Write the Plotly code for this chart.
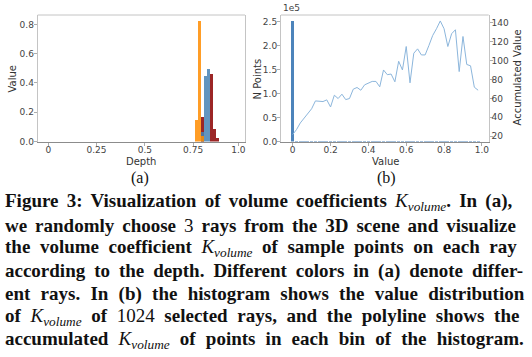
import plotly.graph_objects as go

# ---------------- data ----------------
# (a) sample index along ray (64 samples, depth 0..1)
orange_idx = [49, 50, 51]
orange_val = [0.148, 0.823, 0.039]
blue_idx = [51, 52, 53]
blue_val = [0.068, 0.448, 0.493]
red_idx = [51, 54, 55, 56]
red_val = [0.166, 0.461, 0.084, 0.027]
depth_tickvals = [0, 16, 32, 48, 63]
depth_ticktext = ["0", "0.25", "0.5", "0.75", "1.0"]
value_ticks_a = [0.0, 0.2, 0.4, 0.6, 0.8]

# (b) histogram bins of K_volume
bin_x = [0.00, 0.02, 0.04, 0.06, 0.08, 0.10, 0.12, 0.14, 0.16, 0.18,
         0.20, 0.22, 0.24, 0.26, 0.28, 0.30, 0.32, 0.34, 0.36, 0.38,
         0.40, 0.42, 0.44, 0.46, 0.48, 0.50, 0.52, 0.54, 0.56, 0.58,
         0.60, 0.62, 0.64, 0.66, 0.68, 0.70, 0.72, 0.74, 0.76, 0.78,
         0.80, 0.82, 0.84, 0.86, 0.88, 0.90, 0.92, 0.94, 0.96, 0.98]
n_points = [251000, 1350, 850, 650, 550, 490, 480, 410, 350, 320,
            255, 285, 250, 245, 210, 200, 215, 210, 190, 195,
            190, 185, 175, 157, 188, 170, 165, 143, 177, 155,
            191, 123, 168, 170, 156, 151, 161, 171, 176, 182,
            167, 140, 153, 154, 101, 139, 104, 100, 74, 70]
accumulated = [21.8, 27.0, 34.0, 38.8, 43.8, 49.0, 57.3, 57.3, 56.6, 58.4,
               50.9, 63.3, 59.8, 64.4, 58.7, 59.8, 69.7, 71.5, 68.6, 74.3,
               75.7, 77.9, 77.9, 72.2, 90.0, 85.0, 85.7, 77.5, 99.2, 90.0,
               114.8, 76.4, 107.7, 112.3, 105.9, 105.9, 115.9, 126.5, 133.6, 141.8,
               133.6, 114.8, 128.3, 132.5, 88.3, 125.4, 95.8, 94.4, 71.8, 68.6]
value_tickvals_b = [0, 0.2, 0.4, 0.6, 0.8, 1.0]
value_ticktext_b = ["0", "0.2", "0.4", "0.6", "0.8", "1.0"]
npts_tickvals = [0, 50000, 100000, 150000, 200000, 250000]
npts_ticktext = ["0.0", "0.5", "1.0", "1.5", "2.0", "2.5"]
acc_ticks = [20, 40, 60, 80, 100, 120, 140]

caption_lines = [
    "Figure 3: Visualization of volume coefficients {K}. In (a),",
    "we randomly choose {3} rays from the 3D scene and visualize",
    "the volume coefficient {K} of sample points on each ray",
    "according to the depth. Different colors in (a) denote differ-",
    "ent rays. In (b) the histogram shows the value distribution",
    "of {K} of {1024} selected rays, and the polyline shows the",
    "accumulated {K} of points in each bin of the histogram.",
]
# extra space between words (px) to justify each line
caption_word_spacing = [3.5, 3.2, 4.8, 4.2, 5.5, 4.9, 5.4]

# ---------------- layout helpers ----------------
W, H = 532, 357
def px_x(x):
    return x / W
def px_y(y):
    return 1 - y / H

TICK_FONT = dict(family="DejaVu Sans", size=9, color="#444444")
TITLE_FONT = dict(family="DejaVu Sans", size=10, color="#333333")
FRAME = "#c4c4c4"
BOTTOM = "#8c8c8c"

fig = go.Figure()

# (a) bars: red, blue, orange (orange on top)
fig.add_trace(go.Bar(x=red_idx, y=red_val, width=0.92, marker=dict(color="rgba(139,0,0,0.85)", line=dict(width=0)),
                     xaxis="x", yaxis="y", showlegend=False))
fig.add_trace(go.Bar(x=blue_idx, y=blue_val, width=0.92, marker=dict(color="rgba(70,130,180,0.85)", line=dict(width=0)),
                     xaxis="x", yaxis="y", showlegend=False))
fig.add_trace(go.Bar(x=orange_idx, y=orange_val, width=0.92, marker=dict(color="rgba(255,140,0,0.85)", line=dict(width=0)),
                     xaxis="x", yaxis="y", showlegend=False))

# (b) histogram + polyline
fig.add_trace(go.Bar(x=bin_x, y=n_points, width=0.017, marker=dict(color="#4d84bb", line=dict(width=0)),
                     xaxis="x2", yaxis="y2", showlegend=False))
fig.add_trace(go.Scatter(x=bin_x, y=accumulated, mode="lines", line=dict(color="#8cb6dc", width=1),
                         xaxis="x2", yaxis="y3", showlegend=False))

ydom = [px_y(141.5), px_y(15)]
common_axis = dict(showgrid=False, zeroline=False, tickfont=TICK_FONT, ticks="outside",
                   ticklen=3, tickwidth=0.8, tickcolor="#999999", automargin=False)
XSO = -3
YSO = -2

fig.update_layout(
    template="none",
    width=W, height=H, margin=dict(l=0, r=0, t=0, b=0, pad=0, autoexpand=False),
    paper_bgcolor="white", plot_bgcolor="white",
    barmode="overlay", bargap=0, hovermode=False,
    xaxis=dict(domain=[px_x(37.7), px_x(245)], range=[-3.5, 65.2], tickvals=depth_tickvals,
               ticktext=depth_ticktext, showline=True, linecolor=BOTTOM, linewidth=1,
               anchor="y", ticklabelstandoff=XSO, **common_axis),
    yaxis=dict(domain=ydom, range=[0, 0.864], tickvals=value_ticks_a, tickformat=".1f",
               showline=True, linecolor=FRAME, linewidth=1, mirror=True, anchor="x",
               ticklabelstandoff=YSO, **common_axis),
    xaxis2=dict(domain=[px_x(281), px_x(488.7)], range=[-0.062, 1.036], tickvals=value_tickvals_b,
                ticktext=value_ticktext_b, showline=True, linecolor=BOTTOM, linewidth=1,
                anchor="y2", ticklabelstandoff=XSO, **common_axis),
    yaxis2=dict(domain=ydom, range=[0, 264000], tickvals=npts_tickvals, ticktext=npts_ticktext,
                showline=True, linecolor=FRAME, linewidth=1, anchor="x2",
                ticklabelstandoff=YSO, **common_axis),
    yaxis3=dict(domain=ydom, range=[14.4, 148.1], tickvals=acc_ticks, overlaying="y2", side="right",
                showline=True, linecolor=FRAME, linewidth=1, anchor="x2",
                ticklabelstandoff=-3, **common_axis),
)

# top frame lines
for xr, yr in [("x domain", "y domain"), ("x2 domain", "y2 domain")]:
    fig.add_shape(type="line", xref=xr, yref=yr, x0=0, x1=1, y0=1, y1=1,
                  line=dict(color=FRAME, width=1), layer="above")

annos = []
def add_text(x, y, text, font, angle=0, xanchor="center", yanchor="middle"):
    annos.append(dict(x=px_x(x), y=px_y(y), xref="paper", yref="paper", text=text, showarrow=False,
                      font=font, textangle=angle, xanchor=xanchor, yanchor=yanchor))

add_text(12, 79.5, "Value", TITLE_FONT, angle=-90)
add_text(141.4, 161.7, "Depth", TITLE_FONT)
add_text(256.5, 79, "N Points", TITLE_FONT, angle=-90)
add_text(516.5, 78, "Accumulated Value", TITLE_FONT, angle=-90)
add_text(385, 161.7, "Value", TITLE_FONT)
add_text(291.5, 8.3, "1e5", TICK_FONT)

SUB_FONT = dict(family="Liberation Serif", size=16, color="#111111")
add_text(139.7, 178.3, "(a)", SUB_FONT)
add_text(386.7, 178.3, "(b)", SUB_FONT)

NORMAL = "<span style='font-weight:normal'>{}</span>"
K = NORMAL.format("<i>K<sub>volume</sub></i>")
CAP_FONT = dict(family="Liberation Serif", size=19, color="#111111")
for i, line in enumerate(caption_lines):
    t = line.replace("{K}", K).replace("{3}", NORMAL.format("3")).replace("{1024}", NORMAL.format("1024"))
    t = "<span style='word-spacing:%.1fpx'>%s</span>" % (caption_word_spacing[i], t)
    baseline = 210 + 23 * i
    add_text(3, baseline - 8, "<b>" + t + "</b>", CAP_FONT, xanchor="left")

fig.update_layout(annotations=annos)
fig.write_html("out.html", config={"displayModeBar": False, "staticPlot": True},
               post_script="document.body.style.margin='0';document.body.style.padding='0';"
                           "document.body.style.overflow='hidden';")
